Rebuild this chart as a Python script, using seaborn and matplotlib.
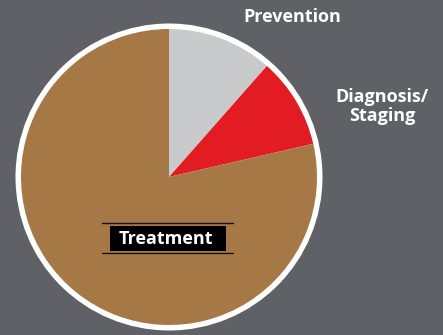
import matplotlib
matplotlib.use("Agg")
import matplotlib.pyplot as plt
import seaborn as sns
from matplotlib.patches import Circle, Rectangle

sns.set_style("white")
plt.rcParams['font.family'] = ['Open Sans', 'DejaVu Sans']

categories = ["Prevention", "Diagnosis/\nStaging", "Treatment"]
shares = [11.5, 9.9, 78.6]
colors = ["#c8cacc", "#e31b23", "#a57845"]
bg = "#606166"

W, H = 443, 335
fig = plt.figure(figsize=(W / 100, H / 100), dpi=100, facecolor=bg)
ax = fig.add_axes([0, 0, 1, 1])
ax.set_facecolor(bg)

cx, cy, r = 169, H - 177, 148
ax.add_patch(Circle((cx, cy), r + 5.5, facecolor="white", edgecolor="none", zorder=1))
wedges, _ = ax.pie(shares, colors=colors, startangle=90, counterclock=False,
                   center=(cx, cy), radius=r, frame=True,
                   wedgeprops=dict(edgecolor="none", linewidth=0))
for w in wedges:
    w.set_zorder(2)

ax.set_xlim(0, W)
ax.set_ylim(0, H)
ax.set_aspect("equal")
ax.axis("off")

# outside labels
ax.text(292, H - 17, categories[0], color="white", fontsize=13, fontweight="bold",
        ha="center", va="center", zorder=5)
ax.text(382, H - 106.5, categories[1], color="white", fontsize=13, fontweight="bold",
        ha="center", va="center", linespacing=1.05, zorder=5)

# Treatment label with black box and rules
ax.add_patch(Rectangle((110, H - 251), 116, 25.3, facecolor="black", edgecolor="none", zorder=4))
ax.text(166, H - 238.5, categories[2], color="white", fontsize=13, fontweight="bold",
        ha="center", va="center", zorder=5)
ax.plot([101.7, 233], [H - 223.3, H - 223.3], color="#1a1208", lw=1.0, zorder=5)
ax.plot([101.7, 233], [H - 253.3, H - 253.3], color="#1a1208", lw=1.0, zorder=5)

fig.savefig("out.png", dpi=100, facecolor=bg)
